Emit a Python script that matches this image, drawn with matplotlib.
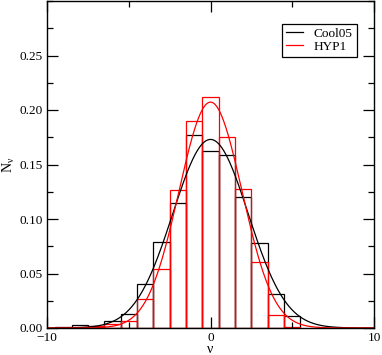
import numpy as np
import matplotlib
matplotlib.use("Agg")
import matplotlib.pyplot as plt
from matplotlib.ticker import MultipleLocator

plt.rcParams["font.family"] = ["Liberation Serif", "DejaVu Serif"]
plt.rcParams["mathtext.fontset"] = "custom"
plt.rcParams["mathtext.rm"] = "Liberation Serif"
plt.rcParams["mathtext.it"] = "Liberation Serif:italic"

# histogram bins (centres, width 1)
bins = [-9, -8, -7, -6, -5, -4, -3, -2, -1, 0, 1, 2, 3, 4, 5]
cool05 = [0.001, 0.0025, 0.002, 0.0064, 0.0125, 0.0404, 0.0789, 0.1147,
          0.1767, 0.1626, 0.1583, 0.1198, 0.0782, 0.0309, 0.011]
hyp1 = [0.0, 0.0005, 0.0022, 0.004, 0.0068, 0.0263, 0.0538, 0.1265,
        0.190, 0.2118, 0.1748, 0.1271, 0.0608, 0.0116, 0.0008]

# gaussian fits (mean, sigma)
cool05_fit = (0.0, 2.306)
hyp1_fit = (0.0, 1.925)

fig = plt.figure(figsize=(3.82, 3.55), dpi=100)
ax = fig.add_axes([47 / 382, 1 - 328 / 355, 327 / 382, 327 / 355])

ax.bar(bins, cool05, width=1.0, fill=False, edgecolor="black", linewidth=0.9)
ax.bar(bins, hyp1, width=1.0, fill=False, edgecolor="red", linewidth=0.9)

x = np.linspace(-10, 10, 600)
for (mu, sig), col, lab in [(cool05_fit, "black", "Cool05"), (hyp1_fit, "red", "HYP1")]:
    y = np.exp(-0.5 * ((x - mu) / sig) ** 2) / (np.sqrt(2 * np.pi) * sig)
    ax.plot(x, y, color=col, linewidth=0.9, label=lab)

ax.set_xlim(-10, 10)
ax.set_ylim(0, 0.3)
ax.xaxis.set_major_locator(MultipleLocator(10))
ax.xaxis.set_minor_locator(MultipleLocator(5))
ax.yaxis.set_major_locator(MultipleLocator(0.05))
ax.yaxis.set_minor_locator(MultipleLocator(0.025))
ax.set_yticks([0, 0.05, 0.1, 0.15, 0.2, 0.25])
ax.set_yticklabels(["0.00", "0.05", "0.10", "0.15", "0.20", "0.25"])
ax.tick_params(which="both", direction="in", top=True, right=True,
               labelsize=9.5, width=0.9, pad=3)
ax.tick_params(which="major", length=8)
ax.tick_params(which="minor", length=4.5)
for s in ax.spines.values():
    s.set_linewidth(1.0)

ax.set_xlabel("ν", fontsize=10, labelpad=-1)
ax.set_ylabel(r"N$_{\mathrm{ν}}$", fontsize=10, labelpad=2)

leg = ax.legend(loc="upper right", bbox_to_anchor=(0.947, 0.93), borderaxespad=0,
                fancybox=False, edgecolor="black", framealpha=1, fontsize=9.5,
                handlelength=1.25, handletextpad=0.85, borderpad=0.3, labelspacing=0.05)
leg.get_frame().set_linewidth(0.9)

fig.savefig("out.png", dpi=100)
